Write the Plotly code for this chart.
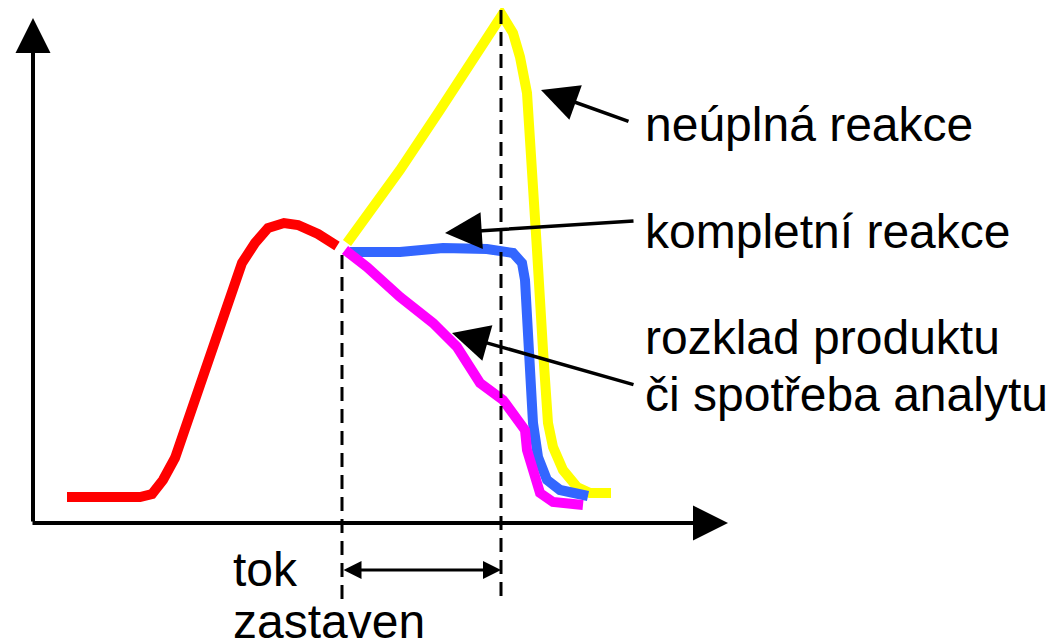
import plotly.graph_objects as go

# diagram coordinates (x to the right, y downwards, page pixels)
red_x = [67, 140, 152, 163, 175, 205, 232, 242, 255, 268, 284, 298, 318, 337]
red_y = [497, 497, 494, 480, 458, 373, 298, 263, 243, 228, 223, 225, 234, 246]

yellow_x = [347, 400, 440, 470, 490, 497, 502, 513, 520, 527, 533, 537, 543, 548, 553, 563, 577, 590, 611]
yellow_y = [243, 170, 110, 66, 35, 22, 15, 33, 57, 93, 170, 250, 350, 423, 447, 470, 487, 493, 493]

blue_x = [350, 400, 443, 487, 513, 522, 525, 528, 530, 533, 538, 547, 560, 580, 588]
blue_y = [252, 252, 248, 249, 253, 263, 280, 350, 380, 423, 457, 480, 490, 495, 496]

magenta_x = [345, 367, 400, 433, 457, 480, 503, 517, 525, 527, 533, 540, 553, 583]
magenta_y = [250, 267, 297, 323, 347, 383, 400, 417, 430, 450, 473, 493, 502, 505]

stop_x = [342, 501]
stop_top = [255, 10]
stop_bottom = 600

labels = ["neúplná reakce", "kompletní reakce", "rozklad produktu", "či spotřeba analytu"]
label_y = [124, 231, 337, 394]
# label arrows: tail -> tip
arrow_tail = [(630, 122), (635, 221), (635, 385)]
arrow_tip = [(541, 90), (445, 233), (452, 333)]

# the html page puts the figure 8px in from the corner (body margin)
PAGE_MARGIN = 8
W, H = 1054, 643

fig = go.Figure()

for xs, ys, col, w in [(yellow_x, yellow_y, "#FFFF00", 10),
                       (blue_x, blue_y, "#3366FF", 10),
                       (magenta_x, magenta_y, "#FF00FF", 10),
                       (red_x, red_y, "#FF0000", 10)]:
    fig.add_trace(go.Scatter(x=xs, y=ys, mode="lines",
                             line=dict(color=col, width=w), hoverinfo="skip"))

# dashed markers of the stopped flow
for sx, st in zip(stop_x, stop_top):
    fig.add_trace(go.Scatter(x=[sx, sx], y=[st, stop_bottom], mode="lines",
                             line=dict(color="black", width=3, dash="14px,8px"),
                             hoverinfo="skip"))

font = dict(family="Liberation Sans, Arial", size=48, color="black")
ann = []

# axes with arrowheads
ann.append(dict(x=33, y=18, ax=33, ay=523, xref="x", yref="y", axref="x", ayref="y",
                text="", showarrow=True, arrowhead=2, arrowsize=1.75, arrowwidth=4,
                arrowcolor="black"))
ann.append(dict(x=728, y=523, ax=31, ay=523, xref="x", yref="y", axref="x", ayref="y",
                text="", showarrow=True, arrowhead=2, arrowsize=1.75, arrowwidth=4,
                arrowcolor="black"))

# double arrow for "tok zastaven"
ann.append(dict(x=stop_x[1], y=570, ax=stop_x[0], ay=570, xref="x", yref="y",
                axref="x", ayref="y", text="", showarrow=True, arrowhead=2,
                startarrowhead=2, arrowside="end+start", arrowsize=1.2,
                startarrowsize=1.2, arrowwidth=3, arrowcolor="black"))

for (tx, ty), (hx, hy) in zip(arrow_tail, arrow_tip):
    ann.append(dict(x=hx, y=hy, ax=tx, ay=ty, xref="x", yref="y", axref="x", ayref="y",
                    text="", showarrow=True, arrowhead=2, arrowsize=2.1, arrowwidth=3.5,
                    arrowcolor="black"))

for t, ly in zip(labels, label_y):
    ann.append(dict(x=643, y=ly, xref="x", yref="y", text=t, showarrow=False,
                    xanchor="left", yanchor="middle", font=font))

ann.append(dict(x=231, y=569, xref="x", yref="y", text="tok", showarrow=False,
                xanchor="left", yanchor="middle", font=font))
ann.append(dict(x=231, y=621, xref="x", yref="y", text="zastaven", showarrow=False,
                xanchor="left", yanchor="middle", font=font))

fig.update_layout(
    width=W, height=H,
    margin=dict(l=0, r=0, t=0, b=0),
    paper_bgcolor="white", plot_bgcolor="white",
    showlegend=False,
    xaxis=dict(range=[PAGE_MARGIN, W + PAGE_MARGIN], visible=False),
    yaxis=dict(range=[H + PAGE_MARGIN, PAGE_MARGIN], visible=False),
    annotations=ann,
)

fig.write_html("out.html")
